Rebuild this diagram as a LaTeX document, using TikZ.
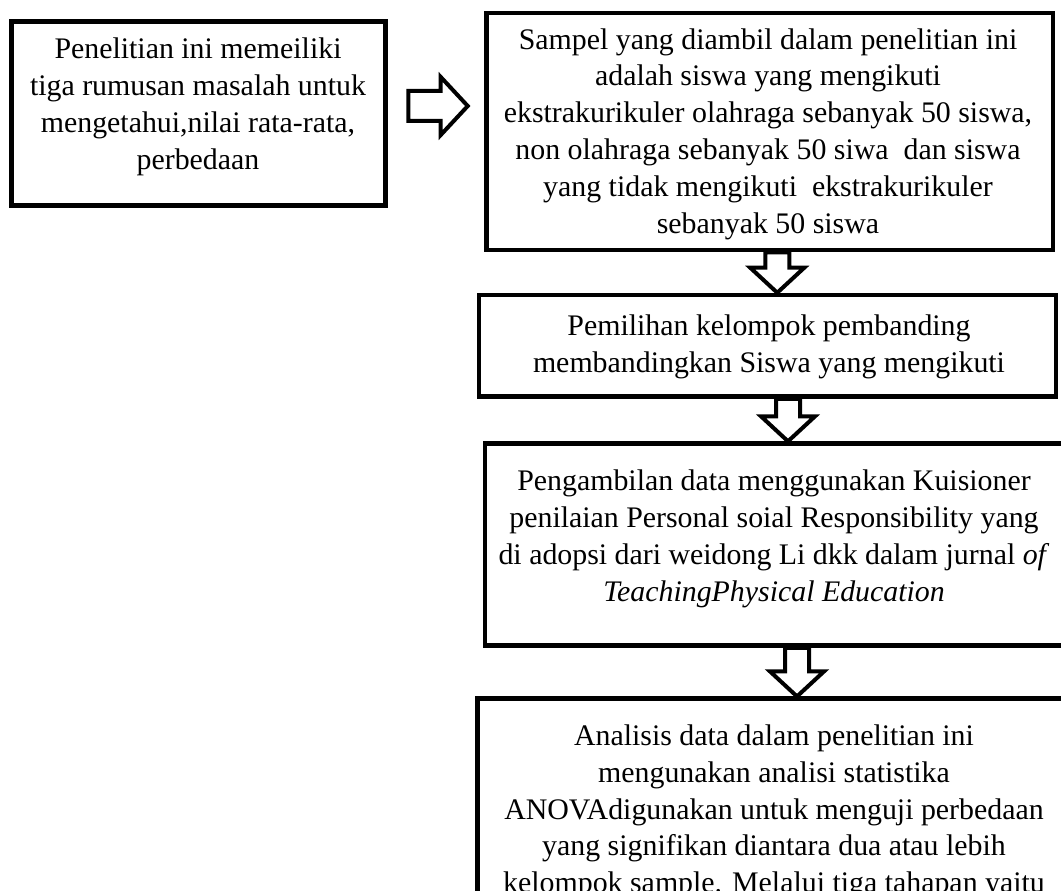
\documentclass[tikz,border=0pt]{standalone}
\usepackage{fontspec}
\setmainfont[Ligatures=NoCommon]{Liberation Serif}
\usetikzlibrary{calc, positioning}

\tikzset{
    kotak/.style={draw, line width=3.4pt, inner sep=0pt},
    teks/.style={align=center, inner sep=0pt, font=\fontsize{22.4}{27.6}\selectfont},
    panahblok/.style={draw, line width=3pt, line join=miter},
}

% Mũi tên khối hướng xuống: #1 = gốc, #2 = đầu mũi tên
\newcommand{\panahbawah}[2]{%
    \draw[panahblok] ($(#1)+(-12,0)$) -- ($(#1)+(12,0)$) -- ($(#2)+(12,-25)$) -- ($(#2)+(27,-25)$)
        -- (#2) -- ($(#2)+(-27,-25)$) -- ($(#2)+(-12,-25)$) -- cycle;}

% Mũi tên khối hướng sang phải
\newcommand{\panahkanan}[2]{%
    \draw[panahblok] ($(#1)+(0,-15)$) -- ($(#2)+(-27,-15)$) -- ($(#2)+(-27,-29)$) -- (#2)
        -- ($(#2)+(-27,29)$) -- ($(#2)+(-27,15)$) -- ($(#1)+(0,15)$) -- cycle;}

\begin{document}
\begin{tikzpicture}[x=0.75pt, y=-0.75pt]
    \useasboundingbox (0,0) rectangle (1061,891);
    \clip (0,0) rectangle (1061,891);

    % Các khối
    \node[kotak, minimum width=374*0.75pt, minimum height=184*0.75pt] (kotak1) at (198.5,113.5) {};
    \node[kotak, minimum width=566.5*0.75pt, minimum height=237*0.75pt] (kotak2) at (769.75,131.5) {};
    \node[kotak, minimum width=577*0.75pt, minimum height=101.5*0.75pt] (kotak3) at (767.5,345.75) {};
    \node[kotak, minimum width=581*0.75pt, minimum height=202*0.75pt] (kotak4) at (775.5,544.6) {};
    \node[kotak, minimum width=593.5*0.75pt, minimum height=300*0.75pt] (kotak5) at (774.25,848.7) {};

    % Nội dung các khối
    \node[teks] (teks1) at (198,107) {Penelitian ini memeiliki\\tiga rumusan masalah untuk\\mengetahui,nilai rata-rata,\\perbedaan};
    \node[teks] (teks2) at (768,134) {Sampel yang diambil dalam penelitian ini\\adalah siswa yang mengikuti\\ekstrakurikuler olahraga sebanyak 50 siswa,\\non olahraga sebanyak 50 siwa\ \ dan siswa\\yang tidak mengikuti\ \ ekstrakurikuler\\sebanyak 50 siswa};
    \node[teks] (teks3) at (769,346.5) {Pemilihan kelompok pembanding\\membandingkan Siswa yang mengikuti};
    \node[teks] (teks4) at (774,539) {Pengambilan data menggunakan Kuisioner\\penilaian Personal soial Responsibility yang\\di adopsi dari weidong Li dkk dalam jurnal \textit{of}\\\textit{TeachingPhysical Education}};
    \node[teks] (teks5) at (774,812) {Analisis data dalam penelitian ini\\mengunakan analisi statistika\\ANOVAdigunakan untuk menguji perbedaan\\yang signifikan diantara dua atau lebih\\kelompok sample. Melalui tiga tahapan yaitu};

    % Mũi tên sang phải
    \coordinate (pk1) at ($(kotak1.east)+(20.5,-7.5)$);
    \path (pk1 -| kotak2.west) ++(-16.5,0) coordinate (pk2);
    \panahkanan{pk1}{pk2}

    % Mũi tên xuống
    \coordinate (pb1) at ($(kotak2.south)+(7.5,0)$);
    \path (pb1 |- kotak3.north) coordinate (pb1u);
    \panahbawah{pb1}{pb1u}

    \coordinate (pb2) at ($(kotak3.south)+(20.5,0)$);
    \path (pb2 |- kotak4.north) coordinate (pb2u);
    \panahbawah{pb2}{pb2u}

    \coordinate (pb3) at ($(kotak4.south)+(21.5,0)$);
    \path (pb3 |- kotak5.north) coordinate (pb3u);
    \panahbawah{pb3}{pb3u}

\end{tikzpicture}
\end{document}
